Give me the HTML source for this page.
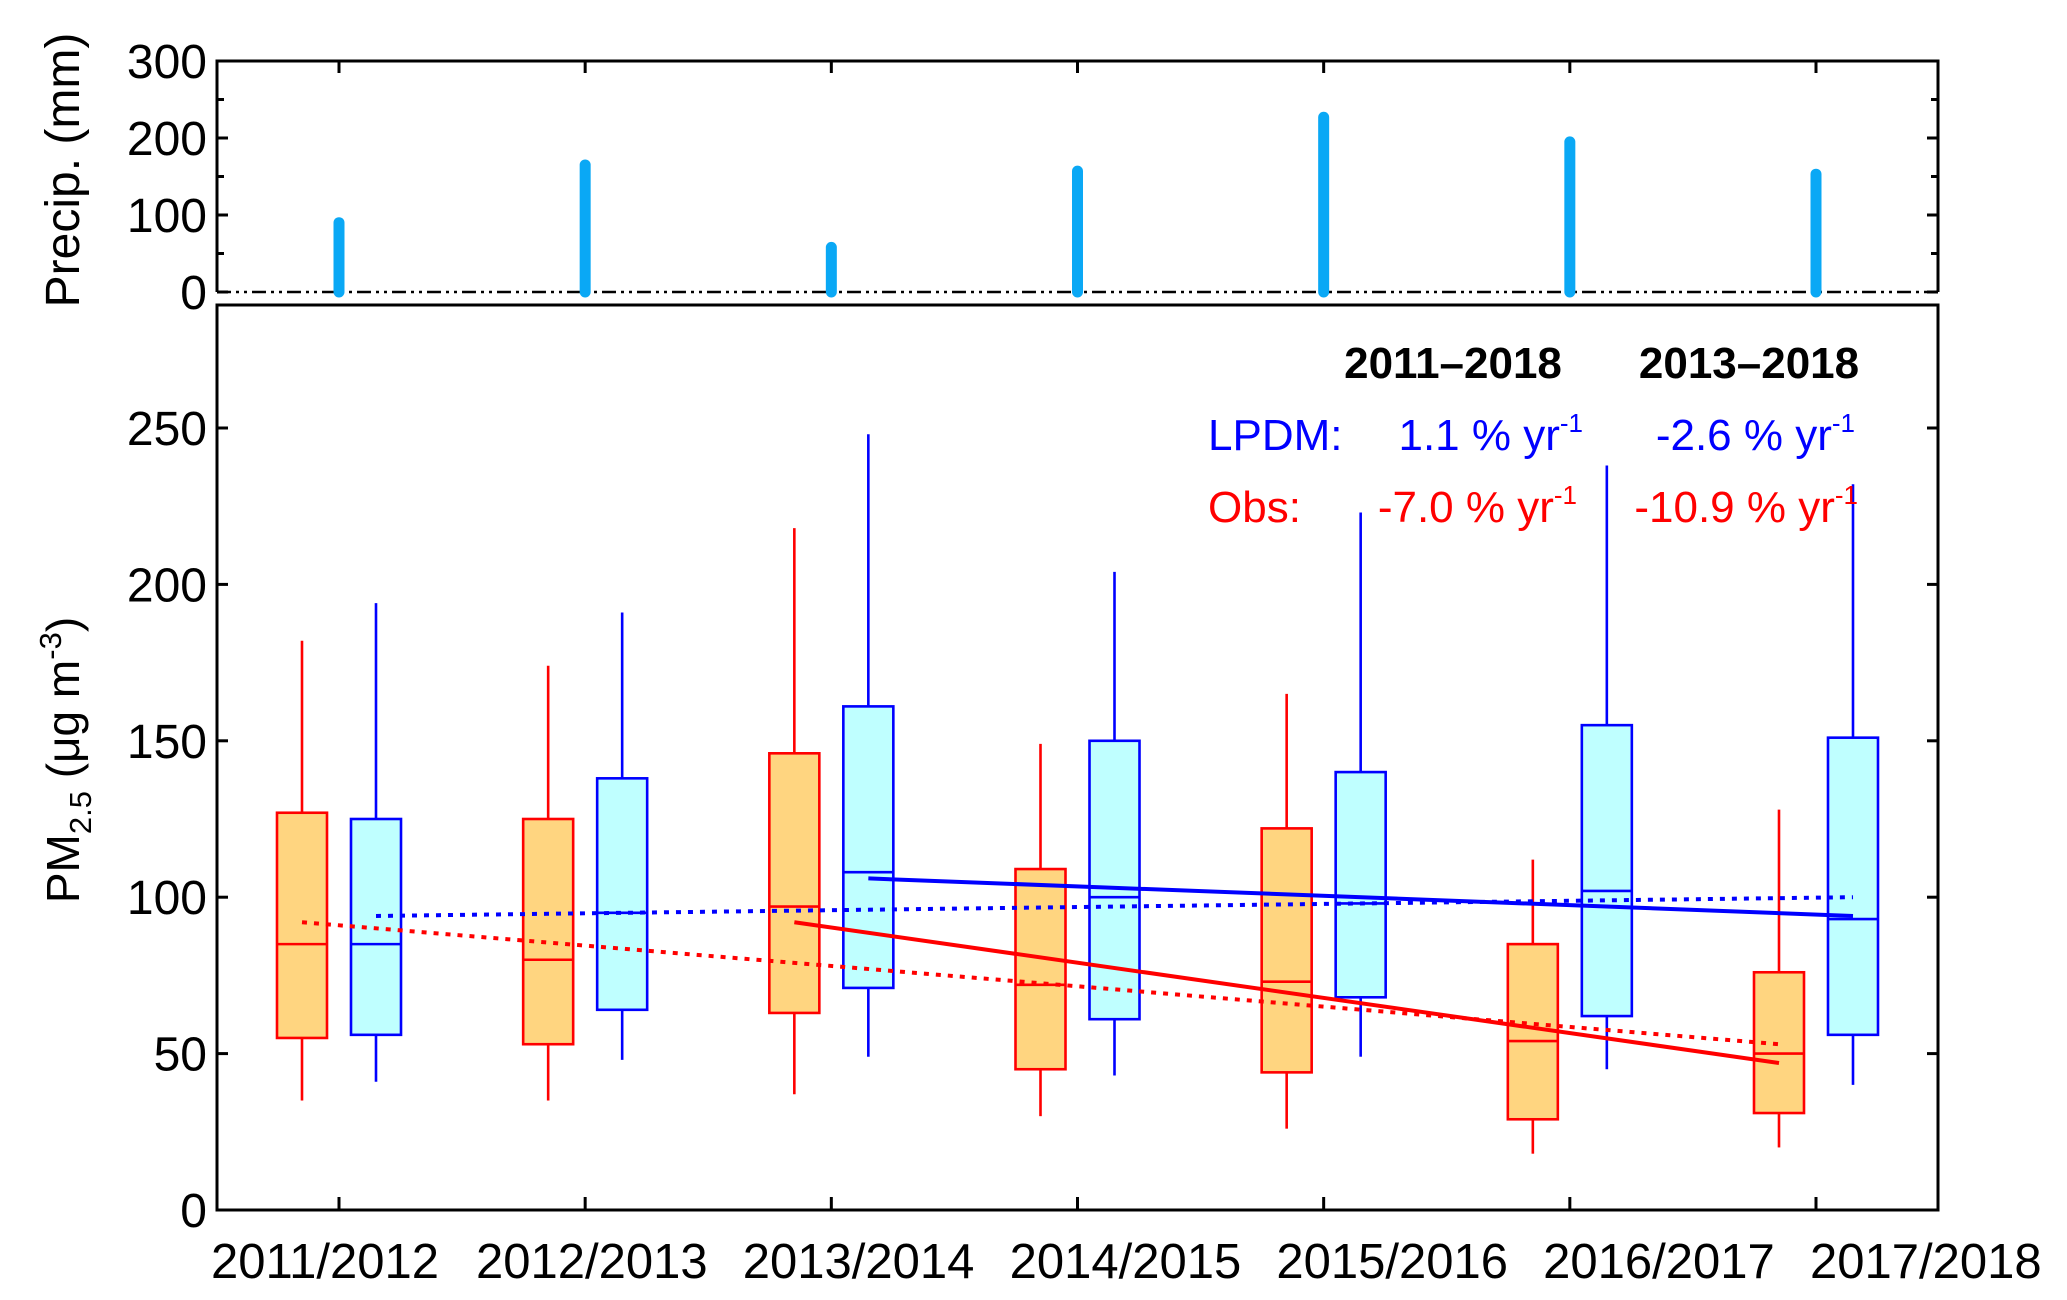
<!DOCTYPE html>
<html><head><meta charset="utf-8"><style>
html,body{margin:0;padding:0;background:#fff;width:2067px;height:1300px;overflow:hidden}
svg{display:block}
text{font-family:"Liberation Sans",Arial,sans-serif}
</style></head><body>
<svg id="chart" width="2067" height="1300" viewBox="0 0 2067 1300" xmlns="http://www.w3.org/2000/svg">
<g id="g"></g>
</svg>
<script>
const categories=["2011/2012","2012/2013","2013/2014","2014/2015","2015/2016","2016/2017","2017/2018"];
const precip=[90,165,58,157,227,195,153];
// [low, q1, median, q3, high]
const obsBox=[[35,55,85,127,182],[35,53,80,125,174],[37,63,97,146,218],[30,45,72,109,149],[26,44,73,122,165],[18,29,54,85,112],[20,31,50,76,128]];
const lpdmBox=[[41,56,85,125,194],[48,64,95,138,191],[49,71,108,161,248],[43,61,100,150,204],[49,68,98,140,223],[45,62,102,155,238],[40,56,93,151,232]];
const pmTicks=[0,50,100,150,200,250];
const prTicks=[0,100,200,300];
const obsTrendAll=[92,53];
const lpdmTrendAll=[94,100];
const obsTrend13=[92,47];
const lpdmTrend13=[106,94];

const NS="http://www.w3.org/2000/svg";
const g=document.getElementById('g');
function el(t,a,p){const e=document.createElementNS(NS,t);for(const k in a)e.setAttribute(k,a[k]);(p||g).appendChild(e);return e;}
const L=217,R=1938,PT=61,PZ=292,MT=305,MB=1210;
const xC=i=>339+i*(1816-339)/6;
const xL=i=>325+i*266.8;
const yP=v=>PZ-v*(PZ-PT)/300;
const yM=v=>MB-v*3.128;
let e;

// top panel
e=el('path',{d:`M${L},${PZ} L${L},${PT} L${R},${PT} L${R},${PZ}`,fill:'none',stroke:'#000','stroke-width':3});

e=el('line',{x1:L,y1:PZ,x2:R,y2:PZ,stroke:'#000','stroke-width':2.5,'stroke-dasharray':'14 5 3 5 3 5'});

prTicks.forEach(v=>{
 const y=yP(v);
 el('line',{x1:L,y1:y,x2:L+11,y2:y,stroke:'#000','stroke-width':3});
 el('line',{x1:R,y1:y,x2:R-11,y2:y,stroke:'#000','stroke-width':3});
 e=el('text',{x:L-10,y:y+17,'text-anchor':'end','font-size':48});e.textContent=v;
 
});
[50,150,250].forEach(v=>{const y=yP(v);el('line',{x1:L,y1:y,x2:L+7,y2:y,stroke:'#000','stroke-width':3});el('line',{x1:R,y1:y,x2:R-7,y2:y,stroke:'#000','stroke-width':3});});
categories.forEach((c,i)=>{el('line',{x1:xC(i),y1:PT,x2:xC(i),y2:PT+12,stroke:'#000','stroke-width':3});});
precip.forEach((v,i)=>{
 e=el('line',{x1:xC(i),y1:yP(0),x2:xC(i),y2:yP(v),stroke:'#0aa8f5','stroke-width':11,'stroke-linecap':'round'});
 
});
e=el('text',{x:0,y:0,'font-size':48,'text-anchor':'middle',transform:'translate(79,170) rotate(-90)'});e.textContent='Precip. (mm)';


// bottom panel
e=el('rect',{x:L,y:MT,width:R-L,height:MB-MT,fill:'none',stroke:'#000','stroke-width':3});

pmTicks.forEach(v=>{
 const y=yM(v);
 el('line',{x1:L,y1:y,x2:L+11,y2:y,stroke:'#000','stroke-width':3});
 el('line',{x1:R,y1:y,x2:R-11,y2:y,stroke:'#000','stroke-width':3});
 e=el('text',{x:L-10,y:y+17,'text-anchor':'end','font-size':48});e.textContent=v;
 
});
categories.forEach((c,i)=>{
 el('line',{x1:xC(i),y1:MB,x2:xC(i),y2:MB-13,stroke:'#000','stroke-width':3});
 e=el('text',{x:xL(i),y:1278,'text-anchor':'middle','font-size':49});e.textContent=c;
 
});
e=el('text',{x:0,y:0,'font-size':46,'text-anchor':'middle',transform:'translate(79,760) rotate(-90)'});
e.innerHTML='PM<tspan font-size="31" dy="12">2.5</tspan><tspan dy="-12"> (μg m</tspan><tspan font-size="31" dy="-18">-3</tspan><tspan dy="18">)</tspan>';


function box(d,x,col,fill,name){
 const w=50;
 const b=el('g',{});
 
 el('line',{x1:x,y1:yM(d[0]),x2:x,y2:yM(d[1]),stroke:col,'stroke-width':2.6},b);
 el('line',{x1:x,y1:yM(d[3]),x2:x,y2:yM(d[4]),stroke:col,'stroke-width':2.6},b);
 el('rect',{x:x-w/2,y:yM(d[3]),width:w,height:yM(d[1])-yM(d[3]),fill:fill,stroke:col,'stroke-width':2.6},b);
 el('line',{x1:x-w/2,y1:yM(d[2]),x2:x+w/2,y2:yM(d[2]),stroke:col,'stroke-width':2.6},b);
}
obsBox.forEach((d,i)=>box(d,xC(i)-37,'#ff0000','#ffd580','obs-box'));
lpdmBox.forEach((d,i)=>box(d,xC(i)+37,'#0000ff','#bfffff','lpdm-box'));

function trend(vals,x1,x2,col,dash,name){
 const a={x1:x1,y1:yM(vals[0]),x2:x2,y2:yM(vals[1]),stroke:col,'stroke-width':4};
 if(dash)a['stroke-dasharray']='5 7';
 e=el('line',a);
}
trend(lpdmTrendAll,xC(0)+37,xC(6)+37,'#0000ff',true,'lpdm-trend-2011-2018');
trend(obsTrendAll,xC(0)-37,xC(6)-37,'#ff0000',true,'obs-trend-2011-2018');
trend(lpdmTrend13,xC(2)+37,xC(6)+37,'#0000ff',false,'lpdm-trend-2013-2018');
trend(obsTrend13,xC(2)-37,xC(6)-37,'#ff0000',false,'obs-trend-2013-2018');

function txt(x,y,s,col,anchor,bold,name){
 e=el('text',{x:x,y:y,'font-size':44,fill:col,'text-anchor':anchor||'start','font-weight':bold?'bold':'normal'});
 e.innerHTML=s;
}
const sup='<tspan font-size="26" dy="-18">-1</tspan>';
txt(1453,378,'2011–2018','#000','middle',true,'header-2011-2018');
txt(1749,378,'2013–2018','#000','middle',true,'header-2013-2018');
txt(1208,450,'LPDM:','#0000ff','start',false,'lpdm-label');
txt(1583,450,'1.1 % yr'+sup,'#0000ff','end',false,'lpdm-trend-value-1');
txt(1855,450,'-2.6 % yr'+sup,'#0000ff','end',false,'lpdm-trend-value-2');
txt(1208,522,'Obs:','#ff0000','start',false,'obs-label');
txt(1577,522,'-7.0 % yr'+sup,'#ff0000','end',false,'obs-trend-value-1');
txt(1858,522,'-10.9 % yr'+sup,'#ff0000','end',false,'obs-trend-value-2');
</script>
</body></html>
